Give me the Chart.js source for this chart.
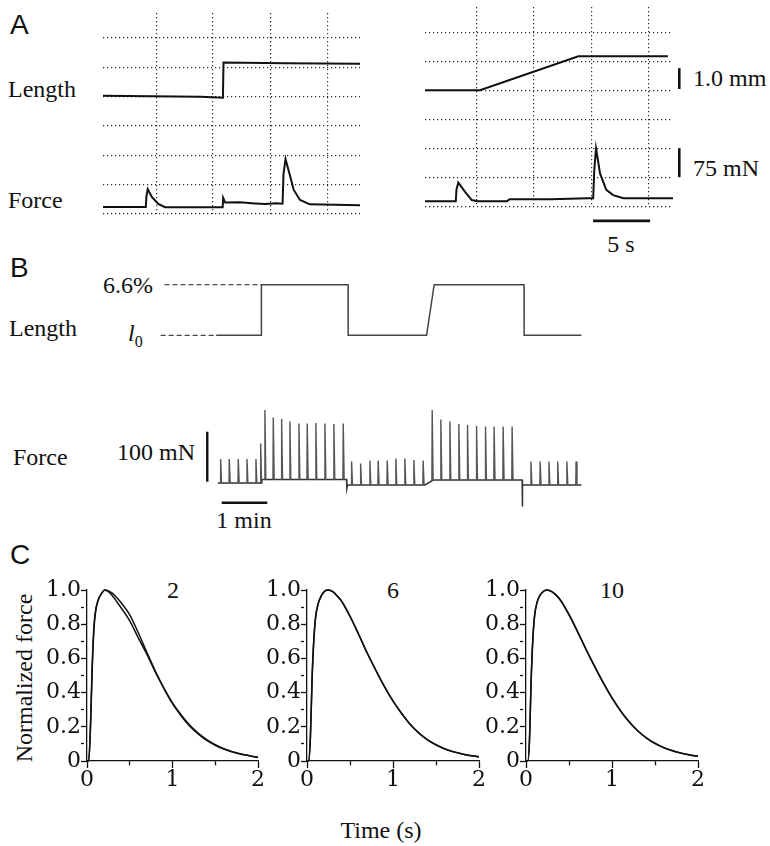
<!DOCTYPE html>
<html lang="en">
<head>
<meta charset="UTF-8">
<title>Stretch and twitch force</title>
<script src="https://cdn.jsdelivr.net/npm/chart.js"></script>
<style>
    body { margin: 0; background: #fff; }
    #fig { position: relative; width: 770px; height: 846px; overflow: hidden; color: #111;
           font-family: 'Liberation Serif', 'Times New Roman', serif; }
    canvas { position: absolute; }
    .lbl { position: absolute; font-size: 24px; line-height: 24px; white-space: nowrap; }
    .mid { transform: translateX(-50%); }
    .panel { position: absolute; font-family: 'Liberation Sans', Arial, sans-serif; font-size: 28px; line-height: 28px; }
    .rot { transform: translate(-50%, -50%) rotate(-90deg); }
</style>
</head>
<body>
<div id="fig">
    <!-- A -->
    <div class="panel" style="left:10px; top:11px;">A</div>
    <div class="lbl" style="left:8px; top:77px;">Length</div>
    <div class="lbl" style="left:8px; top:188px;">Force</div>
    <div class="lbl" style="left:693px; top:66px;">1.0 mm</div>
    <div class="lbl" style="left:693px; top:156px;">75 mN</div>
    <div class="lbl mid" style="left:621px; top:232px;">5 s</div>
    <canvas id="a-left" width="267" height="211" style="left:98px; top:8px;"></canvas>
    <canvas id="a-right" width="270" height="228" style="left:420px; top:2px;"></canvas>

    <!-- B -->
    <div class="panel" style="left:10px; top:254px;">B</div>
    <div class="lbl" style="right:617px; top:273px;">6.6%</div>
    <div class="lbl" style="left:9px; top:316px;">Length</div>
    <div class="lbl" style="left:128px; top:321px;"><i>l</i><sub style="font-size:16px;">0</sub></div>
    <div class="lbl" style="left:13px; top:445px;">Force</div>
    <div class="lbl" style="right:575px; top:440px;">100 mN</div>
    <div class="lbl mid" style="left:244px; top:508px;">1 min</div>
    <canvas id="b-length" width="443" height="79" style="left:150px; top:269px;"></canvas>
    <canvas id="b-force" width="443" height="115" style="left:150px; top:403px;"></canvas>

    <!-- C -->
    <div class="panel" style="left:10px; top:541px;">C</div>
    <div class="lbl rot" style="left:24px; top:678px;">Normalized force</div>
    <div class="lbl mid" style="left:173px; top:578px;">2</div>
    <div class="lbl mid" style="left:393px; top:578px;">6</div>
    <div class="lbl mid" style="left:612px; top:578px;">10</div>
    <div class="lbl mid" style="left:381px; top:818px;">Time (s)</div>
    <canvas id="c-2" width="256" height="226" style="left:17px; top:575px;"></canvas>
    <canvas id="c-6" width="257" height="226" style="left:237px; top:575px;"></canvas>
    <canvas id="c-10" width="257" height="226" style="left:456px; top:575px;"></canvas>
</div>

<script>
    // A: time in s, heights in scope grid divisions
    const aLeftGridX = [4.73, 9.63, 14.71, 19.7];
    const aRightGridX = [4.56, 9.56, 14.65, 19.65];
    const aGridY = [0, 1, 2, 3, 4, 5, 6];

    const aLeftLenT = [0, 8.5, 10.5, 10.55, 16, 22.5];
    const aLeftLen = [4.03, 4.0, 3.96, 5.16, 5.14, 5.12];
    const aLeftForceT = [0, 3.75, 3.8, 3.92, 4.26, 4.84, 5.43, 10.48, 10.52, 10.7, 12.0, 13.3, 14.2, 15.2, 15.72, 15.8, 15.98, 16.4, 16.7, 17.25, 18.1, 22.5];
    const aLeftForce = [0.24, 0.24, 0.6, 0.85, 0.59, 0.34, 0.23, 0.23, 0.55, 0.39, 0.4, 0.36, 0.34, 0.37, 0.35, 1.35, 1.87, 1.27, 0.82, 0.48, 0.33, 0.3];

    const aRightLenT = [0, 4.82, 13.45, 21.3];
    const aRightLen = [4.03, 4.03, 5.2, 5.2];
    const aRightForceT = [0, 2.7, 2.76, 2.92, 3.5, 4.1, 4.6, 7.2, 7.4, 11, 14.3, 14.75, 14.85, 15.0, 15.35, 15.9, 16.5, 17.4, 21.75];
    const aRightForce = [0.2, 0.2, 0.6, 0.84, 0.53, 0.24, 0.2, 0.2, 0.27, 0.27, 0.3, 0.3, 1.3, 2.02, 1.16, 0.59, 0.41, 0.3, 0.3];

    // scale bars of A (1.0 mm, 75 mN, 5 s)
    const mmBarT = [22.3, 22.3], mmBarY = [4.07, 4.79];
    const mNBarT = [22.3, 22.3], mNBarY = [1.03, 2.03];
    const secBarT = [14.74, 19.74], secBarY = [-0.48, -0.48];

    // B: time in s, length in %, force in mN
    const bLenT = [0.5, 60, 60.1, 174.2, 174.3, 277.5, 287.5, 405.8, 405.9, 481.3];
    const bLen = [0, 0, 6.6, 6.6, 0, 0, 6.6, 6.6, 0, 0];
    const bTopRefT = [-67.5, 60], bTopRef = [6.6, 6.6];
    const bLowRefT = [-72.5, 0.5], bLowRef = [0, 0];

    const bBaseT = [2.9, 60.2, 60.6, 172.2, 172.5, 173.5, 275.3, 286.2, 403.3, 403.5, 404, 481.3];
    const bBase = [0, 0, 7, 7, -11, -4, -4, 6, 6, -47, -4, -4];
    const bTwitchT = [6.4, 17.8, 29.6, 41.1, 52.9, 59.1,
        64.7, 75.7, 86.7, 97.6, 109.5, 120.4, 131.8, 143.7, 155.5, 167.8,
        178.8, 190.7, 202.9, 213.8, 225.7, 237.1, 248.9, 260.8, 273,
        284.9, 296.3, 308.2, 320, 331.4, 343.3, 355.1, 366.4, 378.3, 390.1,
        414.9, 427, 438.6, 450.1, 462.2, 474.3];
    const bTwitchPeak = [48, 48, 48, 48, 48, 79,
        146, 131, 128, 123, 119, 119, 120, 119, 118, 119,
        43, 39, 45, 45, 45, 49, 49, 46, 45,
        146, 127, 123, 118, 116, 114, 113, 113, 113, 113,
        43, 43, 43, 43, 43, 43];
    const bTwitchBase = [0, 0, 0, 0, 0, 0,
        7, 7, 7, 7, 7, 7, 7, 7, 7, 7,
        -4, -4, -4, -4, -4, -4, -4, -4, -4,
        5, 6, 6, 6, 6, 6, 6, 6, 6, 6,
        -4, -4, -4, -4, -4, -4];
    const bForceBarT = [-11.2, -11.2], bForceBarY = [2.6, 102.6];
    const bMinBarT = [7.8, 67.8], bMinBarY = [-39.4, -39.4];

    // C: normalized twitches at 2, 6 and 10 min
    const cTime = [0, 0.02, 0.04, 0.06, 0.08, 0.1, 0.13, 0.17, 0.21, 0.25, 0.3, 0.35, 0.4, 0.5, 0.6, 0.7, 0.8, 0.9, 1.0, 1.1, 1.2, 1.3, 1.4, 1.5, 1.6, 1.7, 1.8, 1.9, 2.0];
    const force2a = [0, 0, 0.2, 0.55, 0.78, 0.88, 0.94, 0.98, 1.0, 0.995, 0.98, 0.955, 0.925, 0.855, 0.75, 0.635, 0.525, 0.425, 0.335, 0.265, 0.205, 0.158, 0.12, 0.092, 0.07, 0.053, 0.04, 0.03, 0.02];
    const force2b = [0, 0, 0.18, 0.52, 0.76, 0.87, 0.94, 0.98, 1.0, 0.99, 0.965, 0.93, 0.895, 0.82, 0.72, 0.625, 0.52, 0.425, 0.34, 0.27, 0.21, 0.163, 0.125, 0.095, 0.072, 0.055, 0.041, 0.031, 0.022];
    const force6a = [0, 0, 0.15, 0.5, 0.72, 0.84, 0.92, 0.97, 0.995, 1.0, 0.99, 0.965, 0.935, 0.845, 0.74, 0.63, 0.53, 0.435, 0.35, 0.277, 0.213, 0.163, 0.124, 0.094, 0.071, 0.054, 0.041, 0.031, 0.024];
    const force6b = [0, 0, 0.14, 0.49, 0.71, 0.84, 0.92, 0.97, 0.995, 1.0, 0.99, 0.967, 0.937, 0.848, 0.743, 0.633, 0.532, 0.437, 0.352, 0.279, 0.215, 0.165, 0.125, 0.095, 0.072, 0.055, 0.042, 0.032, 0.025];
    const force10a = [0, 0, 0.12, 0.48, 0.72, 0.85, 0.93, 0.975, 0.995, 1.0, 0.99, 0.97, 0.94, 0.855, 0.755, 0.65, 0.55, 0.455, 0.368, 0.292, 0.228, 0.175, 0.134, 0.102, 0.078, 0.06, 0.046, 0.035, 0.027];
    const force10b = [0, 0, 0.11, 0.47, 0.71, 0.85, 0.93, 0.975, 0.995, 1.0, 0.99, 0.97, 0.942, 0.857, 0.757, 0.652, 0.552, 0.457, 0.37, 0.294, 0.23, 0.177, 0.136, 0.104, 0.079, 0.061, 0.047, 0.036, 0.028];
    const cXTicks = [0, 0.5, 1, 1.5, 2];
    const cXLabels = ['0', '', '1', '', '2'];
    const cYTicks = [0, 0.1, 0.2, 0.3, 0.4, 0.5, 0.6, 0.7, 0.8, 0.9, 1.0];
    const cYLabels = ['0', '', '0.2', '', '0.4', '', '0.6', '', '0.8', '', '1.0'];

    Chart.defaults.font.family = "'Liberation Serif', 'Times New Roman', serif";
    Chart.defaults.color = '#111';
    const tickFont = { family: "'DejaVu Serif', serif", size: 22, lineHeight: 1 };

    const pts = (xs, ys) => xs.map((x, i) => ({ x: x, y: ys[i] }));

    function line(xs, ys, color, width, dash) {
        return { data: pts(xs, ys), borderColor: color, borderWidth: width, borderDash: dash || [],
                 clip: false, pointRadius: 0, tension: 0, spanGaps: false };
    }

    // each twitch as a thin spike, separated by gaps
    function twitchPoints() {
        const out = [];
        bTwitchT.forEach((t, i) => {
            out.push({ x: t - 0.4, y: bTwitchBase[i] });
            out.push({ x: t, y: bTwitchPeak[i] });
            out.push({ x: t + 1.2, y: bTwitchBase[i] });
            out.push({ x: t + 1.3, y: null });
        });
        return out;
    }

    function hiddenScale(min, max, gridTicks) {
        const s = {
            type: 'linear', min: min, max: max,
            ticks: { display: false },
            grid: { display: false, drawTicks: false },
            border: { display: false }
        };
        if (gridTicks) {
            s.afterBuildTicks = sc => { sc.ticks = gridTicks.map(v => ({ value: v })); };
            s.grid = { display: true, drawTicks: false, color: '#2a2a2a', lineWidth: 1.2 };
            s.border = { display: false, dash: [1.2, 2.8] };
        }
        return s;
    }

    function traceChart(id, datasets, xr, yr, pad, gridX, gridY) {
        new Chart(document.getElementById(id), {
            type: 'line',
            data: { datasets: datasets },
            options: {
                responsive: false,
                animation: false,
                layout: { padding: pad },
                plugins: { legend: { display: false }, tooltip: { enabled: false } },
                scales: {
                    x: hiddenScale(xr[0], xr[1], gridX),
                    y: hiddenScale(yr[0], yr[1], gridY)
                }
            }
        });
    }

    traceChart('a-left', [
        line(aLeftLenT, aLeftLen, '#111', 2),
        line(aLeftForceT, aLeftForce, '#111', 2)
    ], [0, 22.5], [0, 6.85], 5, aLeftGridX, aGridY);

    traceChart('a-right', [
        line(aRightLenT, aRightLen, '#111', 2),
        line(aRightForceT, aRightForce, '#111', 2),
        line(mmBarT, mmBarY, '#111', 2.6),
        line(mNBarT, mNBarY, '#111', 2.6),
        line(secBarT, secBarY, '#111', 2.6)
    ], [0, 21.75], [0, 6.9], { left: 5, top: 5, right: 17, bottom: 23 }, aRightGridX, aGridY);

    traceChart('b-length', [
        line(bTopRefT, bTopRef, '#222', 1, [5, 3]),
        line(bLowRefT, bLowRef, '#222', 1, [5, 3]),
        line(bLenT, bLen, '#444', 1.5)
    ], [-80, 490], [-1, 8], 5);

    traceChart('b-force', [
        { data: twitchPoints(), borderColor: '#555', borderWidth: 1.4, clip: false, pointRadius: 0, tension: 0, spanGaps: false },
        line(bBaseT, bBase, '#333', 1.5),
        line(bForceBarT, bForceBarY, '#111', 2.4),
        line(bMinBarT, bMinBarY, '#111', 2.6)
    ], [-80, 490], [-60, 150], 5);

    function twitchPlot(id, curves) {
        new Chart(document.getElementById(id), {
            type: 'line',
            data: {
                datasets: curves.map(c => ({
                    data: pts(cTime, c), borderColor: '#111', borderWidth: 1.5,
                    cubicInterpolationMode: 'monotone', pointRadius: 0, clip: false
                }))
            },
            options: {
                responsive: false,
                animation: false,
                layout: { padding: { top: 15, right: 15, left: 0, bottom: 0 } },
                plugins: { legend: { display: false }, tooltip: { enabled: false } },
                scales: {
                    x: {
                        type: 'linear', min: 0, max: 2,
                        afterBuildTicks: s => { s.ticks = cXTicks.map(v => ({ value: v })); },
                        afterFit: s => { s.height = 40; },
                        ticks: { autoSkip: false, maxRotation: 0, padding: 1, color: '#111',
                                 font: tickFont, callback: (v, i) => cXLabels[i] },
                        grid: { drawOnChartArea: false, tickLength: 7, tickWidth: 1.3, tickColor: '#111',
                                tickBorderDash: ctx => (ctx.index % 2 ? [4, 20] : []) },
                        border: { color: '#111', width: 1.3 }
                    },
                    y: {
                        type: 'linear', min: 0, max: 1,
                        afterBuildTicks: s => { s.ticks = cYTicks.map(v => ({ value: v })); },
                        afterFit: s => { s.width = 70; },
                        ticks: { autoSkip: false, padding: 0, color: '#111',
                                 font: tickFont, callback: (v, i) => cYLabels[i] },
                        grid: { drawOnChartArea: false, tickLength: 6, tickWidth: 1.3, tickColor: '#111',
                                tickBorderDash: ctx => (ctx.index % 2 ? [3, 20] : []) },
                        border: { color: '#111', width: 1.3 }
                    }
                }
            }
        });
    }

    twitchPlot('c-2', [force2a, force2b]);
    twitchPlot('c-6', [force6a, force6b]);
    twitchPlot('c-10', [force10a, force10b]);
</script>
</body>
</html>
